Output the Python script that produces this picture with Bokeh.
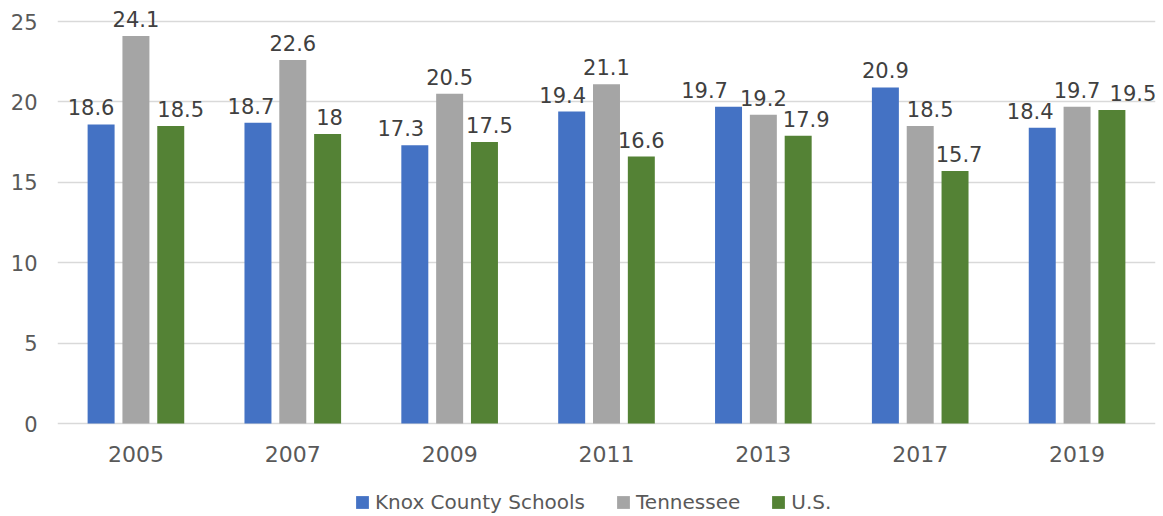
from bokeh.plotting import figure
from bokeh.models import ColumnDataSource, FactorRange, Range1d, Legend, LegendItem, FixedTicker
from bokeh.transform import dodge
from bokeh.embed import file_html
from bokeh.resources import INLINE
from bokeh.core.properties import value

years = ["2005", "2007", "2009", "2011", "2013", "2017", "2019"]
knox = [18.6, 18.7, 17.3, 19.4, 19.7, 20.9, 18.4]
tennessee = [24.1, 22.6, 20.5, 21.1, 19.2, 18.5, 19.7]
us = [18.5, 18.0, 17.5, 16.6, 17.9, 15.7, 19.5]
y_ticks = [0, 5, 10, 15, 20, 25]

# horizontal nudges (px) of the data labels, to avoid collisions as in the original
knox_nudge = [-10, -7, -14, -9, -24, 0, -12]
tn_nudge = [0, 0, 0, 0, 0, 10, 0]
us_nudge = [10, 2, 5, 0, 8, 4, 21]

def fmt(v):
    return ("%g" % v)

src = ColumnDataSource(dict(
    years=years, knox=knox, tennessee=tennessee, us=us,
    knox_l=[fmt(v) for v in knox],
    tn_l=[fmt(v) for v in tennessee],
    us_l=[fmt(v) for v in us],
    knox_dx=knox_nudge, tn_dx=tn_nudge, us_dx=us_nudge,
    zero=[0] * len(years),
))

FONT = "DejaVu Sans"
p = figure(width=1158, height=514, output_backend="svg", toolbar_location=None,
           x_range=FactorRange(*years, range_padding=0), y_range=Range1d(-5.659, 26.306),
           x_axis_location=None,
           min_border_left=57, min_border_right=3, min_border_top=0, min_border_bottom=0)
p.outline_line_color = None
p.xgrid.grid_line_color = None
p.ygrid.grid_line_color = "#D9D9D9"
p.ygrid.grid_line_width = 1.5
p.yaxis.ticker = FixedTicker(ticks=y_ticks)
p.yaxis.axis_line_color = None
p.yaxis.major_tick_line_color = None
p.yaxis.minor_tick_line_color = None
p.yaxis.major_label_text_font = FONT
p.yaxis.major_label_text_font_size = "21px"
p.yaxis.major_label_text_color = "#595959"
p.yaxis.major_label_standoff = 14

# category labels under the bars
p.text(x="years", y="zero", text="years", source=src, text_align="center",
       text_baseline="alphabetic", y_offset=30, text_font=value(FONT),
       text_font_size="22px", text_color="#595959")

colors = ["#4472C4", "#A5A5A5", "#548235"]
cols = ["knox", "tennessee", "us"]
labs = ["knox_l", "tn_l", "us_l"]
dxs = ["knox_dx", "tn_dx", "us_dx"]
names = ["Knox County Schools", "Tennessee", "U.S."]
offs = [-0.222, 0.0, 0.222]
renderers = []
for c, l, dx, col, off in zip(cols, labs, dxs, colors, offs):
    r = p.vbar(x=dodge("years", off, range=p.x_range), top=c, width=0.172, source=src,
               fill_color=col, line_color=None)
    renderers.append(r)
    p.text(x=dodge("years", off, range=p.x_range), y=c, text=l, source=src,
           x_offset=dx, text_align="center", text_baseline="alphabetic", y_offset=-17,
           text_font=value(FONT), text_font_size="21px", text_color="#404040")

legend = Legend(items=[LegendItem(label=n, renderers=[r]) for n, r in zip(names, renderers)],
                orientation="horizontal", location=(297, 0),
                label_text_font=FONT, label_text_font_size="20px", label_text_color="#595959",
                glyph_width=16, glyph_height=16, label_standoff=5, spacing=30, label_height=18,
                border_line_color=None, background_fill_alpha=0, padding=0, margin=0)
p.add_layout(legend, "center")

open("out.html", "w").write(file_html(p, INLINE))
